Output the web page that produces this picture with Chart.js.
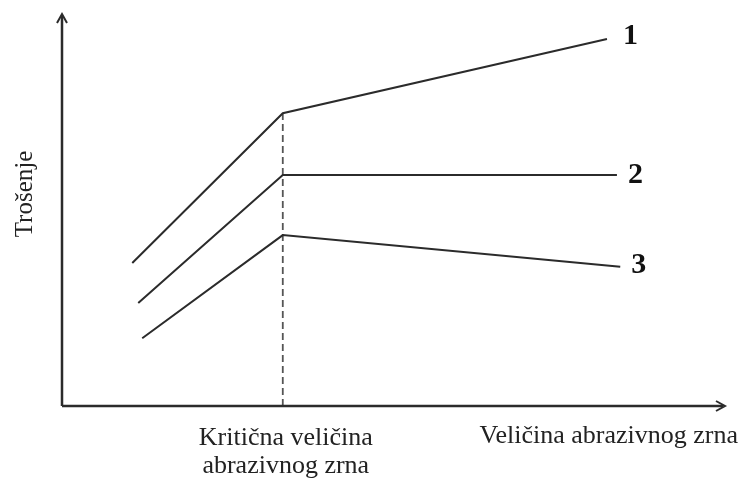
<!DOCTYPE html>
<html>
<head>
<meta charset="utf-8">
<script src="https://cdn.jsdelivr.net/npm/chart.js@4"></script>
<style>
html,body{margin:0;padding:0;background:#fff;}
#wrap{width:742px;height:481px;position:relative;}
</style>
</head>
<body>
<div id="wrap"><canvas id="c" width="742" height="481"></canvas></div>
<script>
// Data (arbitrary units: x = grain size, y = wear)
const criticalSize = 33.3;
const curveNames = ["1", "2", "3"];
const curve1 = [{x:10.6,y:36.5},{x:33.3,y:74.7},{x:82.2,y:93.6}];
const curve2 = [{x:11.5,y:26.3},{x:33.3,y:58.9},{x:83.7,y:58.9}];
const curve3 = [{x:12.1,y:17.3},{x:33.3,y:43.6},{x:84.2,y:35.5}];
const criticalLine = [{x:criticalSize,y:0},{x:criticalSize,y:74.7}];
const xTitle = "Veličina abrazivnog zrna";
const yTitle = "Trošenje";
const criticalLabel = ["Kritična veličina", "abrazivnog zrna"];

const ink = "#2b2b2b";
const lineStyle = {borderColor: ink, borderWidth: 2, pointRadius: 0, fill: false, tension: 0};
const labelOffsets = [[16, -3], [11, 0], [11, -2]];

const axesPlugin = {
  id: "axesPlugin",
  afterDraw(chart) {
    const ctx = chart.ctx, a = chart.chartArea;
    const xs = chart.scales.x, ys = chart.scales.y;
    ctx.save();
    ctx.strokeStyle = ink; ctx.fillStyle = ink; ctx.lineWidth = 2.5;
    // y axis
    ctx.beginPath(); ctx.moveTo(a.left, a.bottom); ctx.lineTo(a.left, a.top + 2); ctx.stroke();
    ctx.beginPath(); ctx.moveTo(a.left - 5, a.top + 9); ctx.lineTo(a.left, a.top); ctx.lineTo(a.left + 5, a.top + 9); ctx.lineWidth = 2; ctx.stroke();
    // x axis
    ctx.lineWidth = 2.5;
    ctx.beginPath(); ctx.moveTo(a.left, a.bottom); ctx.lineTo(a.right - 2, a.bottom); ctx.stroke();
    ctx.beginPath(); ctx.moveTo(a.right - 9, a.bottom - 5); ctx.lineTo(a.right, a.bottom); ctx.lineTo(a.right - 9, a.bottom + 5); ctx.lineWidth = 2; ctx.stroke();
    // curve numbers
    ctx.fillStyle = "#111";
    ctx.font = "bold 30px 'Liberation Serif', serif";
    ctx.textAlign = "left"; ctx.textBaseline = "middle";
    [curve1, curve2, curve3].forEach((c, i) => {
      const p = c[c.length - 1];
      ctx.fillText(curveNames[i], xs.getPixelForValue(p.x) + labelOffsets[i][0], ys.getPixelForValue(p.y) + labelOffsets[i][1]);
    });
    // axis texts
    ctx.font = "26px 'Liberation Serif', serif";
    ctx.fillStyle = "#222";
    ctx.textAlign = "center"; ctx.textBaseline = "alphabetic";
    const cx = xs.getPixelForValue(criticalSize);
    ctx.fillText(criticalLabel[0], cx + 3, a.bottom + 39);
    ctx.fillText(criticalLabel[1], cx + 3, a.bottom + 67);
    ctx.textAlign = "right";
    ctx.fillText(xTitle, 738, a.bottom + 37);
    ctx.save();
    ctx.translate(32, 194); ctx.rotate(-Math.PI / 2);
    ctx.textAlign = "center";
    ctx.font = "25px 'Liberation Serif', serif";
    ctx.fillText(yTitle, 0, 0);
    ctx.restore();
    ctx.restore();
  }
};

new Chart(document.getElementById("c"), {
  type: "line",
  data: {
    datasets: [
      Object.assign({label: curveNames[0], data: curve1}, lineStyle),
      Object.assign({label: curveNames[1], data: curve2}, lineStyle),
      Object.assign({label: curveNames[2], data: curve3}, lineStyle),
      {label: "critical", data: criticalLine, borderColor: "#555", borderWidth: 1.8, borderDash: [7, 4], pointRadius: 0, fill: false}
    ]
  },
  options: {
    responsive: false,
    animation: false,
    layout: {padding: {left: 62, right: 17, top: 14, bottom: 75}},
    plugins: {legend: {display: false}, tooltip: {enabled: false}},
    scales: {
      x: {type: "linear", min: 0, max: 100, display: false},
      y: {type: "linear", min: 0, max: 100, display: false}
    }
  },
  plugins: [axesPlugin]
});
</script>
</body>
</html>
